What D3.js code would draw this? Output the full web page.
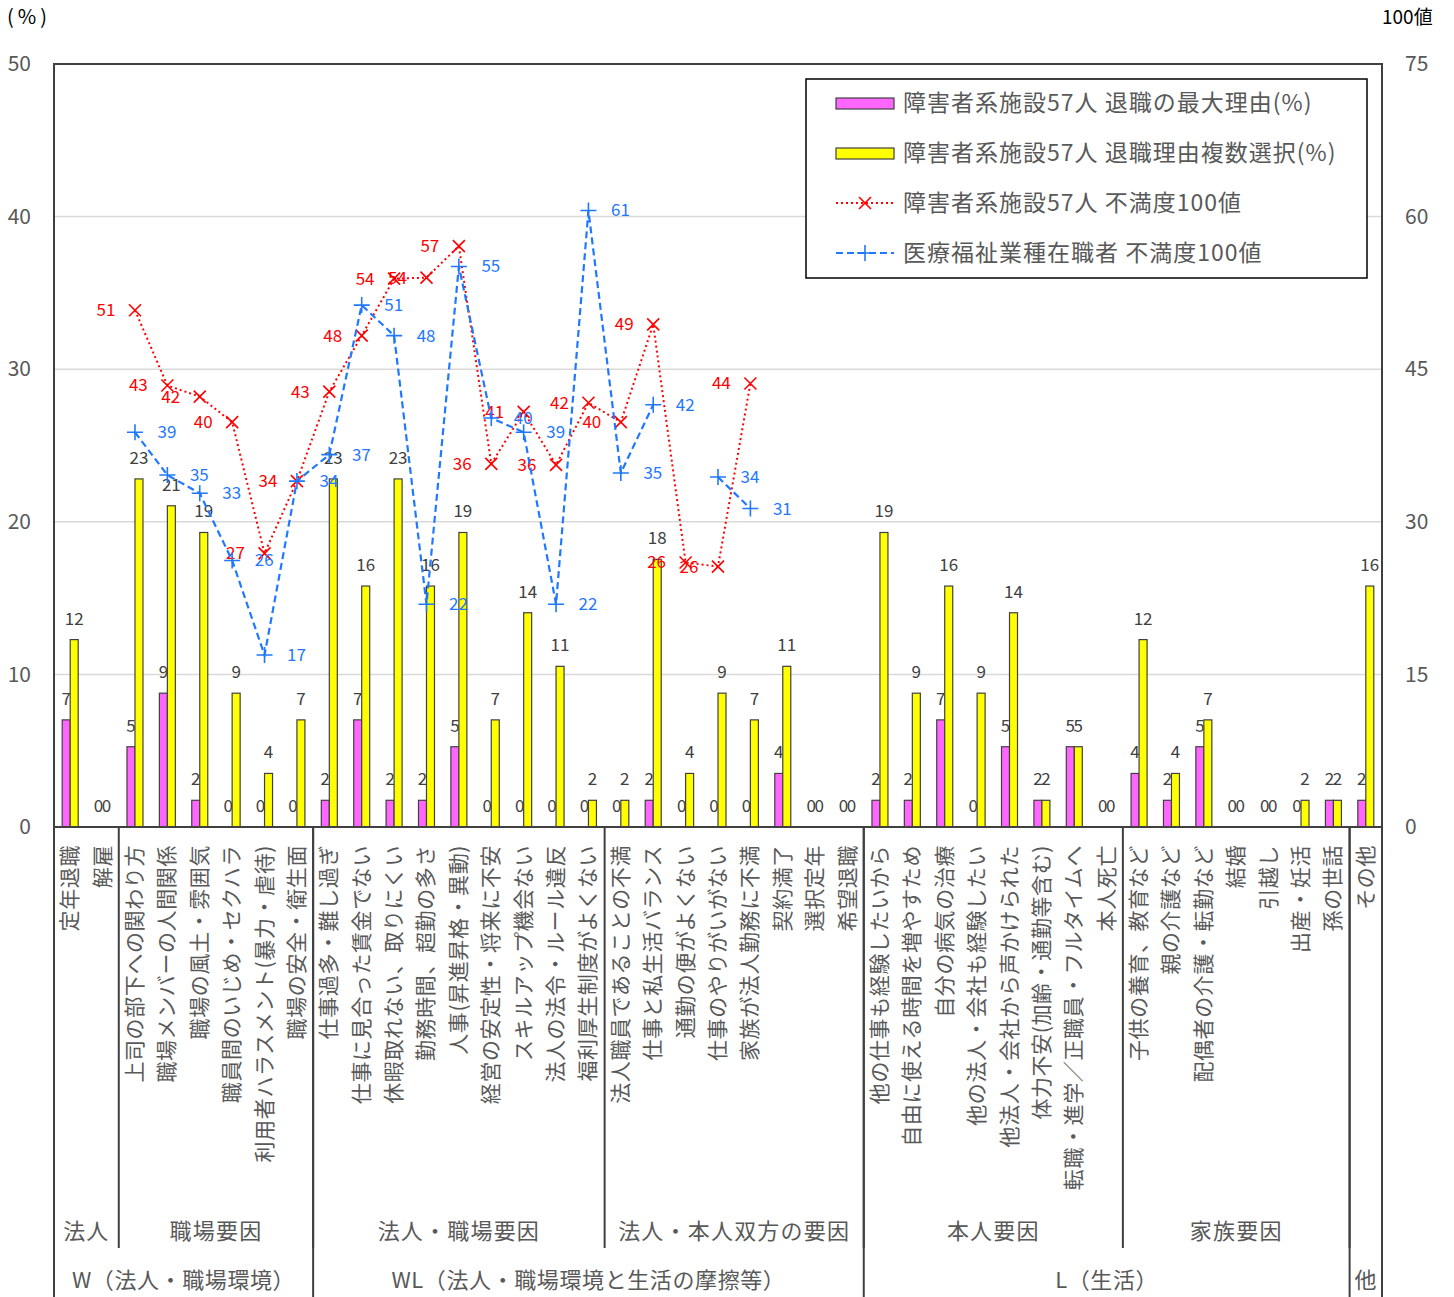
<!DOCTYPE html>
<html><head><meta charset="utf-8">
<script src="https://cdn.jsdelivr.net/npm/d3@7"></script>
<style>
html,body{margin:0;padding:0;background:#fff;}
svg text{font-family:"Noto Sans CJK JP","Noto Sans",sans-serif;}
</style></head>
<body>
<svg id="chart" width="1454" height="1297"></svg>
<script>
const categories = ["定年退職","解雇","上司の部下への関わり方","職場メンバーの人間関係","職場の風土・雰囲気","職員間のいじめ・セクハラ","利用者ハラスメント(暴力・虐待)","職場の安全・衛生面","仕事過多・難し過ぎ","仕事に見合った賃金でない","休暇取れない、取りにくい","勤務時間、超勤の多さ","人事(昇進昇格・異動)","経営の安定性・将来に不安","スキルアップ機会ない","法人の法令・ルール違反","福利厚生制度がよくない","法人職員であることの不満","仕事と私生活バランス","通勤の便がよくない","仕事のやりがいがない","家族が法人勤務に不満","契約満了","選択定年","希望退職","他の仕事も経験したいから","自由に使える時間を増やすため","自分の病気の治療","他の法人・会社も経験したい","他法人・会社から声かけられた","体力不安(加齢・通勤等含む)","転職・進学／正職員・フルタイムへ","本人死亡","子供の養育、教育など","親の介護など","配偶者の介護・転勤など","結婚","引越し","出産・妊活","孫の世話","その他"];
const maxReason = [7.02,0,5.26,8.77,1.75,0,0,0,1.75,7.02,1.75,1.75,5.26,0,0,0,0,0,1.75,0,0,0,3.51,0,0,1.75,1.75,7.02,0,5.26,1.75,5.26,0,3.51,1.75,5.26,0,0,0,1.75,1.75];
const multiReason = [12.28,0,22.81,21.05,19.30,8.77,3.51,7.02,22.81,15.79,22.81,15.79,19.30,7.02,14.04,10.53,1.75,1.75,17.54,3.51,8.77,7.02,10.53,0,0,19.30,8.77,15.79,8.77,14.04,1.75,5.26,0,12.28,3.51,7.02,0,0,1.75,1.75,15.79];
const facilityDissat = [null,null,50.8,43.4,42.3,39.8,26.9,34.0,42.8,48.3,53.9,54.0,57.1,35.7,40.8,35.6,41.7,39.8,49.4,26.0,25.6,43.6,null,null,null,null,null,null,null,null,null,null,null,null,null,null,null,null,null,null,null];
const medicalDissat = [null,null,38.8,34.6,32.8,26.2,16.9,34.0,36.6,51.3,48.3,21.9,55.1,40.2,38.8,21.9,60.6,34.8,41.5,null,34.4,31.3,null,null,null,null,null,null,null,null,null,null,null,null,null,null,null,null,null,null,null];
const seriesNames = ["障害者系施設57人 退職の最大理由(%)","障害者系施設57人 退職理由複数選択(%)","障害者系施設57人 不満度100値","医療福祉業種在職者 不満度100値"];
const leftTicks = [0,10,20,30,40,50];
const rightTicks = [0,15,30,45,60,75];
const level2Labels = ["法人","職場要因","法人・職場要因","法人・本人双方の要因","本人要因","家族要因",""];
const level2Spans = [[0,1],[2,7],[8,16],[17,24],[25,32],[33,39],[40,40]];
const level3Labels = ["W（法人・職場環境）","WL（法人・職場環境と生活の摩擦等）","L（生活）","他"];
const level3Spans = [[0,7],[8,24],[25,39],[40,40]];

const svg = d3.select("#chart");
const L = 54, R = 1382, T = 64, B = 827;
const x = d3.scaleBand().domain(d3.range(categories.length)).range([L, R]);
const bw = x.bandwidth();
const xs = d3.scaleBand().domain(["max","multi"]).range([bw/2-8, bw/2+8]);
const yL = d3.scaleLinear().domain([0,50]).range([B, T]);
const yR = d3.scaleLinear().domain([0,75]).range([B, T]);
const pink = "#FF66FF", yellow = "#FFFF00", red = "#FF0000", blue = "#1F78FF";
const grid = "#D9D9D9", axisCol = "#404040", tickCol = "#595959";

// gridlines
svg.append("g").selectAll("line").data(leftTicks.filter(t => t > 0 && t < 50)).join("line")
  .attr("x1", L).attr("x2", R).attr("y1", d => yL(d)).attr("y2", d => yL(d))
  .attr("stroke", grid).attr("stroke-width", 1.5);

// left axis
const gl = svg.append("g").attr("transform", `translate(${L},0)`)
  .call(d3.axisLeft(yL).tickValues(leftTicks).tickSize(0).tickPadding(23));
gl.select(".domain").remove();
gl.selectAll("text").attr("fill", tickCol).style("font-size", "21px").attr("font-family","Noto Sans CJK JP");
// right axis
const gr = svg.append("g").attr("transform", `translate(${R},0)`)
  .call(d3.axisRight(yR).tickValues(rightTicks).tickSize(0).tickPadding(23));
gr.select(".domain").remove();
gr.selectAll("text").attr("fill", tickCol).style("font-size", "21px").attr("font-family","Noto Sans CJK JP");

svg.append("text").attr("x", 7).attr("y", 24).text("(%)").attr("fill", "#000")
  .style("font-size", "20px").style("letter-spacing", "4px");
svg.append("text").attr("x", 1382).attr("y", 24).text("100値").attr("fill", "#000").style("font-size", "19px");

// bars
const fmt = d3.format(".0f");
const barG = svg.append("g");
const bars = [["max", maxReason, pink], ["multi", multiReason, yellow]];
bars.forEach(([key, vals, col]) => {
  barG.append("g").selectAll("rect").data(vals).join("rect")
    .attr("x", (d, i) => x(i) + xs(key)).attr("width", xs.bandwidth())
    .attr("y", d => yL(d)).attr("height", d => B - yL(d))
    .attr("fill", col).attr("stroke", d => d > 0 ? axisCol : "none").attr("stroke-width", 1.2);
  barG.append("g").selectAll("text").data(vals).join("text")
    .attr("x", (d, i) => x(i) + xs(key) + xs.bandwidth()/2)
    .attr("y", d => yL(d) - 15)
    .attr("text-anchor", "middle").attr("fill", "#404040").style("font-size", "17px")
    .text(d => fmt(d));
});

// lines
function drawLine(vals, col, dash, width, marker, labelDx) {
  const pts = vals.map((v, i) => ({i, v}));
  const line = d3.line().defined(d => d.v != null).x(d => x(d.i) + bw/2).y(d => yR(d.v));
  svg.append("path").attr("d", line(pts)).attr("fill", "none").attr("stroke", col)
    .attr("stroke-width", width).attr("stroke-dasharray", dash);
  const valid = pts.filter(d => d.v != null);
  const g = svg.append("g");
  valid.forEach(d => {
    const cx = x(d.i) + bw/2, cy = yR(d.v);
    if (marker === "x") {
      g.append("path").attr("d", `M${cx-6},${cy-6}L${cx+6},${cy+6}M${cx-6},${cy+6}L${cx+6},${cy-6}`)
        .attr("stroke", col).attr("stroke-width", 1.6).attr("fill", "none");
    } else {
      g.append("path").attr("d", `M${cx-8},${cy}L${cx+8},${cy}M${cx},${cy-8}L${cx},${cy+8}`)
        .attr("stroke", col).attr("stroke-width", 1.6).attr("fill", "none");
    }
    g.append("text").attr("x", cx + labelDx).attr("y", cy + 6).attr("text-anchor", "middle")
      .attr("fill", col).style("font-size", "17px").text(fmt(d.v));
  });
}
drawLine(facilityDissat, red, "2,3", 2, "x", -29);
drawLine(medicalDissat, blue, "7,4", 2.2, "+", 32);

// plot border
svg.append("rect").attr("x", L).attr("y", T).attr("width", R - L).attr("height", B - T)
  .attr("fill", "none").attr("stroke", axisCol).attr("stroke-width", 2);
[L, R].forEach(px => svg.append("line").attr("x1", px).attr("x2", px).attr("y1", B).attr("y2", 1297)
  .attr("stroke", axisCol).attr("stroke-width", 2));

// category labels
svg.append("g").selectAll("text").data(categories).join("text")
  .attr("transform", (d, i) => `translate(${x(i) + bw/2 + 7},${B + 18}) rotate(-90)`)
  .attr("text-anchor", "end").attr("fill", tickCol).style("font-size", "21px")
  .style("letter-spacing", "0.6px")
  .text(d => d);

// level 2
level2Spans.forEach((s, k) => {
  const x0 = x(s[0]), x1 = x(s[1]) + bw;
  if (level2Labels[k]) svg.append("text").attr("x", (x0 + x1)/2).attr("y", 1239).attr("text-anchor", "middle")
    .attr("fill", tickCol).style("font-size", "22px").style("letter-spacing", "1.2px").text(level2Labels[k]);
  if (k > 0) svg.append("line").attr("x1", x0).attr("x2", x0).attr("y1", B).attr("y2", 1248)
    .attr("stroke", axisCol).attr("stroke-width", 2);
});
// level 3
level3Spans.forEach((s, k) => {
  const x0 = x(s[0]), x1 = x(s[1]) + bw;
  svg.append("text").attr("x", (x0 + x1)/2).attr("y", 1288).attr("text-anchor", "middle")
    .attr("fill", tickCol).style("font-size", "22px").style("letter-spacing", "0.6px").text(level3Labels[k]);
  if (k > 0) svg.append("line").attr("x1", x0).attr("x2", x0).attr("y1", B).attr("y2", 1297)
    .attr("stroke", axisCol).attr("stroke-width", 2);
});

// legend
const lg = svg.append("g");
lg.append("rect").attr("x", 806).attr("y", 79).attr("width", 561).attr("height", 199)
  .attr("fill", "#fff").attr("stroke", "#000").attr("stroke-width", 1.5);
const ly = [103, 153, 203, 253];
lg.append("rect").attr("x", 836).attr("y", ly[0]-5).attr("width", 58).attr("height", 11).attr("fill", pink).attr("stroke", axisCol).attr("stroke-width", 1.2);
lg.append("rect").attr("x", 836).attr("y", ly[1]-5).attr("width", 58).attr("height", 11).attr("fill", yellow).attr("stroke", axisCol).attr("stroke-width", 1.2);
lg.append("line").attr("x1", 836).attr("x2", 894).attr("y1", ly[2]).attr("y2", ly[2]).attr("stroke", red).attr("stroke-width", 2).attr("stroke-dasharray", "2,3");
lg.append("path").attr("d", `M${865-6},${ly[2]-6}L${865+6},${ly[2]+6}M${865-6},${ly[2]+6}L${865+6},${ly[2]-6}`).attr("stroke", red).attr("stroke-width", 1.6);
lg.append("line").attr("x1", 836).attr("x2", 894).attr("y1", ly[3]).attr("y2", ly[3]).attr("stroke", blue).attr("stroke-width", 2.2).attr("stroke-dasharray", "7,4");
lg.append("path").attr("d", `M${865-8},${ly[3]}L${865+8},${ly[3]}M${865},${ly[3]-8}L${865},${ly[3]+8}`).attr("stroke", blue).attr("stroke-width", 1.6);
seriesNames.forEach((n, k) => lg.append("text").attr("x", 903).attr("y", ly[k] + 8).attr("fill", tickCol)
  .style("font-size", "23px").style("letter-spacing", "1px").text(n));
</script>
</body></html>
